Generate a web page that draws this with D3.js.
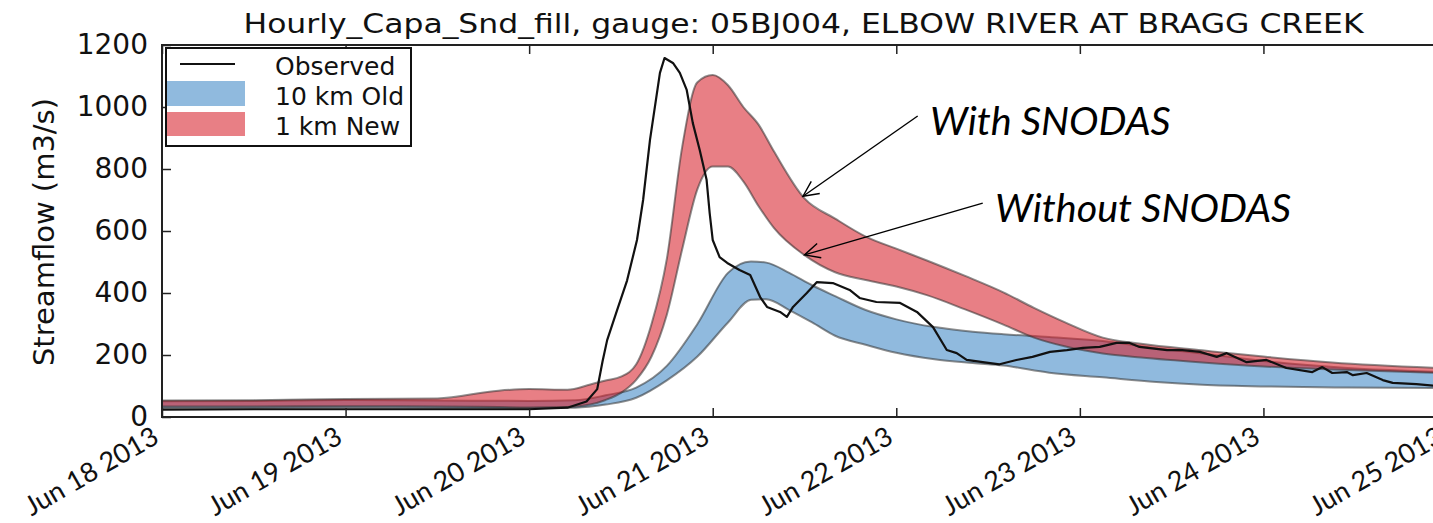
<!DOCTYPE html>
<html><head><meta charset="utf-8">
<script src="https://cdn.jsdelivr.net/npm/d3@7"></script>
<style>body{margin:0;background:#fff;} svg{display:block;}</style>
</head><body><svg id="chart" width="1433" height="523"></svg>
<script>
// ---------- data ----------
const chartTitle = "Hourly_Capa_Snd_fill, gauge: 05BJ004, ELBOW RIVER AT BRAGG CREEK";
const yLabel = "Streamflow (m3/s)";
const startDate = new Date(2013, 5, 18);
const endDate = new Date(2013, 5, 25);
const yTicks = [0, 200, 400, 600, 800, 1000, 1200];
const legendNames = ["Observed", "10 km Old", "1 km New"];

// 1 km New band (hours since Jun 18 00:00)
const redHours = [0, 12, 24, 36, 44, 48, 53, 56, 58, 60, 62, 64, 66, 68, 70, 72, 74, 76, 78, 80, 84, 88, 92, 96, 100, 105, 110, 114, 118, 123, 128, 136, 144, 153, 168];
const redUpper = [53, 54, 58, 60, 85, 90, 88, 105, 118, 130, 170, 300, 510, 870, 1080, 1103, 1070, 1000, 943, 857, 705, 640, 582, 543, 505, 455, 402, 352, 306, 256, 236, 215, 195, 176, 157];
const redLower = [34, 34, 35, 34, 32, 31, 32, 40, 55, 78, 120, 195, 330, 540, 735, 808, 808, 760, 680, 610, 522, 467, 442, 421, 393, 347, 298, 256, 228, 205, 192, 176, 163, 153, 141];

// 10 km Old band
const blueHours = [0, 12, 24, 36, 48, 54, 58, 62, 66, 70, 74, 77, 79, 82, 85, 88, 92, 96, 101, 106, 110, 116, 123, 130, 136, 145, 155, 168];
const blueUpper = [51, 52, 55, 53, 52, 54, 70, 95, 165, 300, 465, 502, 498, 465, 425, 390, 345, 315, 290, 275, 267, 258, 245, 222, 205, 178, 158, 145];
const blueLower = [30, 30, 31, 30, 29, 30, 40, 62, 118, 195, 305, 378, 380, 345, 305, 262, 233, 207, 186, 174, 166, 143, 128, 113, 104, 98, 95, 93];

// Observed
const obsHours = [0, 12, 24, 36, 48, 53, 55.5, 56.9, 57.6, 58.2, 59.5, 60.8, 62.1, 62.9, 63.8, 65.1, 65.7, 66.8, 67.7, 68.6, 69.4, 70.3, 71.2, 71.6, 72, 72.9, 73.9, 75.5, 76.9, 78.2, 79.1, 80.8, 81.7, 82.5, 84.3, 85.6, 87.7, 89.9, 91.2, 93.4, 96.5, 98.7, 100.8, 102.6, 103.9, 105.2, 107.3, 109.5, 111.7, 113.8, 116.1, 118.3, 120.4, 122.6, 124.8, 126.5, 127.8, 131.4, 133.4, 135.7, 137.9, 139.2, 141.8, 144.4, 147, 150.4, 151.7, 153, 154.9, 155.7, 157.5, 159.6, 160.9, 164, 168];
const obsValues = [24, 25, 25, 25, 25, 30, 50, 90, 180, 248, 345, 440, 571, 700, 894, 1110, 1158, 1142, 1110, 1055, 948, 861, 765, 658, 571, 516, 497, 474, 458, 387, 355, 339, 323, 355, 400, 435, 432, 410, 384, 371, 368, 339, 290, 216, 206, 184, 177, 170, 184, 194, 210, 216, 223, 226, 239, 239, 226, 216, 216, 210, 194, 206, 177, 184, 158, 145, 161, 142, 145, 135, 142, 119, 110, 106, 97];

// annotations: text anchor and arrow (hours, value)
const annoText = ["With SNODAS", "Without SNODAS"];
const annoTextH = [100.4, 108.9];
const annoTextV = [910, 629];
const annoFromH = [98.8, 107.3];
const annoFromV = [971, 690];
const annoToH = [83.8, 84.0];
const annoToV = [712, 523];

// ---------- chart ----------
const svg = d3.select("#chart");
const X0 = 162, X1 = 1447, Y0 = 417, Y1 = 45;
const x = d3.scaleTime().domain([startDate, endDate]).range([X0, X1]);
const y = d3.scaleLinear().domain([0, 1200]).range([Y0, Y1]);
const hd = h => new Date(startDate.getTime() + h * 3600e3);

const font = "'DejaVu Sans', sans-serif";

svg.append("defs").append("clipPath").attr("id", "clip")
  .append("rect").attr("x", X0).attr("y", Y1).attr("width", X1 - X0).attr("height", Y0 - Y1);

const plot = svg.append("g").attr("clip-path", "url(#clip)");

function band(hours, up, lo, fill) {
  const data = hours.map((h, i) => ({ d: hd(h), u: up[i], l: lo[i] }));
  const area = d3.area().x(p => x(p.d)).y0(p => y(p.l)).y1(p => y(p.u)).curve(d3.curveMonotoneX);
  plot.append("path").datum(data).attr("d", area)
    .attr("fill", fill).attr("stroke", "rgba(50,50,50,0.55)").attr("stroke-width", 2);
}
const blueFill = "rgba(70,140,200,0.6)";
const redFill = "rgba(215,35,45,0.58)";
band(blueHours, blueUpper, blueLower, blueFill);
band(redHours, redUpper, redLower, redFill);

const obsData = obsHours.map((h, i) => ({ d: hd(h), v: obsValues[i] }));
plot.append("path").datum(obsData)
  .attr("d", d3.line().x(p => x(p.d)).y(p => y(p.v)))
  .attr("fill", "none").attr("stroke", "#111").attr("stroke-width", 2.2).attr("stroke-linejoin", "round");

// axes
const xAxisB = d3.axisBottom(x).ticks(d3.timeDay.every(1)).tickSizeInner(-9).tickSizeOuter(0)
  .tickFormat(d3.timeFormat("%b %d %Y"));
const gxb = svg.append("g").attr("transform", `translate(0,${Y0})`).call(xAxisB);
gxb.select(".domain").remove();
gxb.selectAll("line").attr("stroke", "#222").attr("stroke-width", 1.5);
gxb.selectAll("text")
  .attr("x", -2).attr("y", 25).attr("dy", 0)
  .attr("text-anchor", "end")
  .attr("transform", "rotate(-30,-2,25)")
  .attr("font-family", "Lato, sans-serif").attr("font-size", 27).attr("fill", "#111");

const gxt = svg.append("g").attr("transform", `translate(0,${Y1})`)
  .call(d3.axisTop(x).ticks(d3.timeDay.every(1)).tickSizeInner(-9).tickSizeOuter(0).tickFormat(""));
gxt.select(".domain").remove();
gxt.selectAll("line").attr("stroke", "#222").attr("stroke-width", 1.5);

const gy = svg.append("g").attr("transform", `translate(${X0},0)`)
  .call(d3.axisLeft(y).tickValues(yTicks).tickFormat(d3.format("d")).tickSizeInner(-9).tickSizeOuter(0).tickPadding(14));
gy.select(".domain").remove();
gy.selectAll("line").attr("stroke", "#222").attr("stroke-width", 1.5);
gy.selectAll("text").attr("font-family", font).attr("font-size", 28).attr("fill", "#111");

const gyr = svg.append("g").attr("transform", `translate(${X1},0)`)
  .call(d3.axisRight(y).tickValues(yTicks).tickSizeInner(-9).tickSizeOuter(0).tickFormat(""));
gyr.select(".domain").remove();

// frame
svg.append("rect").attr("x", X0).attr("y", Y1).attr("width", X1 - X0).attr("height", Y0 - Y1)
  .attr("fill", "none").attr("stroke", "#222").attr("stroke-width", 2);

// title
svg.append("text").attr("x", (X0 + X1) / 2 - 1).attr("y", 33).attr("text-anchor", "middle")
  .attr("font-family", font).attr("font-size", 26).attr("fill", "#111")
  .attr("textLength", 1120).attr("lengthAdjust", "spacingAndGlyphs")
  .text(chartTitle);

// y label
svg.append("text").attr("transform", `translate(54,${(Y0 + Y1) / 2 + 1}) rotate(-90)`)
  .attr("text-anchor", "middle")
  .attr("font-family", font).attr("font-size", 29).attr("fill", "#111")
  .text(yLabel);

// legend
const lg = svg.append("g");
lg.append("rect").attr("x", 166).attr("y", 48).attr("width", 245).attr("height", 98)
  .attr("fill", "#fff").attr("stroke", "#111").attr("stroke-width", 2);
lg.append("line").attr("x1", 180).attr("x2", 235).attr("y1", 64).attr("y2", 64)
  .attr("stroke", "#111").attr("stroke-width", 2.2);
lg.append("rect").attr("x", 167).attr("y", 81).attr("width", 78).attr("height", 25).attr("fill", blueFill);
lg.append("rect").attr("x", 167).attr("y", 112).attr("width", 78).attr("height", 24).attr("fill", redFill);
const legY = [66, 96, 126];
legendNames.forEach((n, i) => {
  lg.append("text").attr("x", 275).attr("y", legY[i]).attr("dy", "0.36em")
    .attr("font-family", font).attr("font-size", 25).attr("fill", "#111").text(n);
});

// annotations
annoText.forEach((t, i) => {
  svg.append("text").attr("x", x(hd(annoTextH[i]))).attr("y", y(annoTextV[i]))
    .attr("font-family", "Lato, sans-serif").attr("font-style", "italic")
    .attr("font-size", 39.5).attr("fill", "#000").text(t);
  const fx = x(hd(annoFromH[i])), fy = y(annoFromV[i]);
  const tx = x(hd(annoToH[i])), ty = y(annoToV[i]);
  svg.append("line").attr("x1", fx).attr("y1", fy).attr("x2", tx).attr("y2", ty)
    .attr("stroke", "#000").attr("stroke-width", 1.4);
  const ang = Math.atan2(fy - ty, fx - tx);
  const L = 17, spread = 0.45;
  const p1 = [tx + L * Math.cos(ang + spread), ty + L * Math.sin(ang + spread)];
  const p2 = [tx + L * Math.cos(ang - spread), ty + L * Math.sin(ang - spread)];
  svg.append("path").attr("d", `M${p1[0]},${p1[1]}L${tx},${ty}L${p2[0]},${p2[1]}`)
    .attr("fill", "none").attr("stroke", "#000").attr("stroke-width", 1.4);
});
</script></body></html>
